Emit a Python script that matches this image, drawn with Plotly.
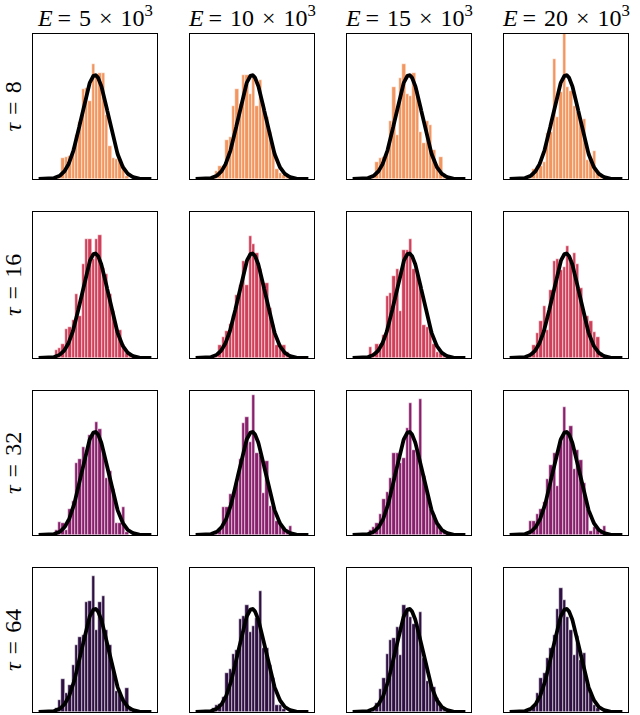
import numpy as np
import plotly.graph_objects as go

# bin centres (in units of sigma) shared by every histogram
bin_centers = [-2.875, -2.625, -2.375, -2.125, -1.875, -1.625, -1.375, -1.125,
               -0.875, -0.625, -0.375, -0.125, 0.125, 0.375, 0.625, 0.875,
               1.125, 1.375, 1.625, 1.875, 2.125, 2.375, 2.625, 2.875]

SP = "\u2004"  # math-like spacing around = and ×
col_titles = [f"<i>E</i>\u2009={SP}5{SP}×{SP}10<sup>3</sup>",
              f"<i>E</i>\u2009={SP}10{SP}×{SP}10<sup>3</sup>",
              f"<i>E</i>\u2009={SP}15{SP}×{SP}10<sup>3</sup>",
              f"<i>E</i>\u2009={SP}20{SP}×{SP}10<sup>3</sup>"]
row_titles = [f"<i>τ</i>{SP}={SP}8", f"<i>τ</i>{SP}={SP}16",
              f"<i>τ</i>{SP}={SP}32", f"<i>τ</i>{SP}={SP}64"]
row_colors = ["#f2955f", "#d0405a", "#88206c", "#2f1043"]

# histogram heights, relative to the fitted gaussian peak
tau8_e5 = [0, 0.02, 0.2, 0.21, 0.22, 0.3, 0.42, 0.55, 0.87, 0.88, 0.75, 1.11,
           1.0, 1.02, 1.02, 0.62, 0.32, 0.2, 0.19, 0.18, 0.1, 0.03, 0, 0]
tau8_e10 = [0, 0.08, 0.13, 0.13, 0.38, 0.4, 0.7, 0.87, 0.72, 1.0, 1.0, 0.82,
            0.98, 0.7, 0.95, 0.72, 0.6, 0.45, 0.28, 0.1, 0.06, 0.04, 0.03, 0.02]
tau8_e15 = [0, 0.03, 0.16, 0.2, 0.21, 0.25, 0.56, 0.89, 0.42, 0.97, 1.11, 0.82,
            0.8, 1.02, 0.85, 0.45, 0.35, 0.56, 0.52, 0.28, 0.1, 0.21, 0.05, 0]
tau8_e20 = [0, 0.04, 0.1, 0.13, 0.13, 0.16, 0.44, 0.45, 1.16, 0.6, 0.84, 1.45,
            0.89, 0.85, 0.7, 0.65, 0.55, 0.58, 0.18, 0.2, 0.27, 0.08, 0.02, 0]

tau16_e5 = [0.08, 0.1, 0.13, 0.28, 0.3, 0.36, 0.61, 0.4, 0.9, 1.14, 1.14, 0.95,
            1.14, 1.18, 0.86, 0.8, 0.61, 0.45, 0.28, 0.27, 0.12, 0.05, 0.02, 0]
tau16_e10 = [0, 0.03, 0.12, 0.2, 0.26, 0.33, 0.41, 0.6, 0.7, 0.93, 0.7, 1.17,
             1.09, 1.0, 0.85, 0.7, 0.72, 0.48, 0.32, 0.12, 0.12, 0.12, 0.06, 0.03]
tau16_e15 = [0.11, 0.05, 0.13, 0.13, 0.22, 0.59, 0.62, 0.78, 0.85, 0.45, 1.03, 1.03,
             1.14, 0.85, 0.83, 0.7, 0.32, 0.3, 0.26, 0.13, 0.06, 0.05, 0.04, 0.02]
tau16_e20 = [0, 0.05, 0.12, 0.24, 0.35, 0.5, 0.27, 0.65, 0.93, 0.95, 0.84, 0.87,
             1.07, 0.92, 1.0, 0.9, 0.67, 0.42, 0.4, 0.35, 0.25, 0.2, 0.05, 0]

tau32_e5 = [0.05, 0.13, 0.12, 0.05, 0.25, 0.33, 0.7, 0.74, 0.85, 0.75, 0.97, 0.98,
            1.1, 1.03, 0.8, 0.55, 0.62, 0.45, 0.12, 0.12, 0.27, 0.03, 0, 0]
tau32_e10 = [0, 0.02, 0.05, 0.27, 0.27, 0.4, 0.36, 0.5, 0.74, 1.09, 1.14, 0.9,
             1.36, 0.8, 0.78, 0.41, 0.72, 0.28, 0.27, 0.14, 0.1, 0.07, 0.05, 0.09]
tau32_e15 = [0.05, 0.08, 0.12, 0.2, 0.35, 0.42, 0.55, 0.8, 0.8, 0.7, 0.75, 1.04,
             1.28, 0.82, 0.8, 1.32, 0.57, 0.38, 0.25, 0.19, 0.09, 0.05, 0.04, 0]
tau32_e20 = [0.02, 0.14, 0.14, 0.2, 0.25, 0.32, 0.54, 0.68, 0.8, 0.48, 0.9, 1.24,
             0.98, 1.06, 0.64, 0.82, 0.73, 0.5, 0.25, 0.04, 0.08, 0.05, 0.05, 0.09]

tau64_e5 = [0.04, 0.12, 0.32, 0.18, 0.26, 0.46, 0.65, 0.73, 0.75, 1.07, 1.08, 1.32,
            0.8, 1.07, 1.13, 0.8, 0.65, 0.42, 0.2, 0.17, 0.14, 0.23, 0.02, 0]
tau64_e10 = [0.04, 0.07, 0.08, 0.15, 0.38, 0.42, 0.56, 0.6, 0.9, 0.93, 1.04, 0.78,
             0.83, 0.91, 1.17, 0.62, 0.62, 0.46, 0.33, 0.07, 0.07, 0.03, 0, 0]
tau64_e15 = [0, 0.04, 0.09, 0.22, 0.33, 0.56, 0.7, 0.72, 0.82, 0.55, 1.04, 0.98,
             0.92, 0.85, 0.85, 0.97, 0.52, 0.3, 0.27, 0.24, 0.14, 0.06, 0.02, 0]
tau64_e20 = [0, 0.02, 0.06, 0.18, 0.33, 0.38, 0.52, 0.62, 0.75, 1.0, 1.2, 1.09,
             0.92, 0.8, 0.55, 0.74, 0.5, 0.57, 0.3, 0.17, 0.07, 0.04, 0, 0]

heights = [
    [tau8_e5, tau8_e10, tau8_e15, tau8_e20],
    [tau16_e5, tau16_e10, tau16_e15, tau16_e20],
    [tau32_e5, tau32_e10, tau32_e15, tau32_e20],
    [tau64_e5, tau64_e10, tau64_e15, tau64_e20],
]

# fitted normal curve (mean 0, sd 1), scaled so its peak is 1
fit_mean, fit_sd = 0.0, 1.0
x_fit = np.linspace(-4.2, 4.2, 300)
y_fit = np.exp(-0.5 * ((x_fit - fit_mean) / fit_sd) ** 2)

W, H = 640, 715
col_px = [(33, 157), (190, 314), (347, 471), (504, 628)]
row_px = [(34, 179), (212, 358), (391, 535), (568, 712)]

fig = go.Figure()
layout = {}
for r in range(4):
    for c in range(4):
        k = r * 4 + c + 1
        sfx = "" if k == 1 else str(k)
        fig.add_trace(go.Bar(
            x=bin_centers, y=heights[r][c], width=0.25,
            marker=dict(color=row_colors[r], line=dict(color="white", width=0.5)),
            xaxis="x" + sfx, yaxis="y" + sfx, showlegend=False
        ))
        fig.add_trace(go.Scatter(
            x=x_fit, y=y_fit, mode="lines",
            line=dict(color="black", width=3.8),
            xaxis="x" + sfx, yaxis="y" + sfx, showlegend=False
        ))
        axis_style = dict(showgrid=False, zeroline=False, showticklabels=False,
                          ticks="", showline=True, mirror=True,
                          linecolor="black", linewidth=1.3)
        layout["xaxis" + sfx] = dict(
            domain=[col_px[c][0] / W, col_px[c][1] / W],
            range=[-4.62, 4.62], anchor="y" + sfx, **axis_style)
        layout["yaxis" + sfx] = dict(
            domain=[1 - row_px[r][1] / H, 1 - row_px[r][0] / H],
            range=[0, 1.397], anchor="x" + sfx, **axis_style)

text_font = dict(size=24, family="Liberation Serif", color="black")
annotations = []
for c, title in enumerate(col_titles):
    annotations.append(dict(
        text=title, x=(col_px[c][0] + col_px[c][1]) / 2 / W, y=1 - 16 / H,
        xref="paper", yref="paper", xanchor="center", yanchor="middle",
        showarrow=False, font=text_font))
for r, title in enumerate(row_titles):
    annotations.append(dict(
        text=title, x=13 / W, y=1 - (row_px[r][0] + row_px[r][1]) / 2 / H,
        xref="paper", yref="paper", xanchor="center", yanchor="middle",
        showarrow=False, textangle=-90, font=text_font))

fig.update_layout(
    width=W, height=H,
    margin=dict(l=0, r=0, t=0, b=0),
    plot_bgcolor="white", paper_bgcolor="white",
    bargap=0, annotations=annotations, **layout
)

fig.write_html("out.html", config={"displayModeBar": False},
               post_script="document.body.style.margin='0';"
                           "document.body.style.overflow='hidden';")
